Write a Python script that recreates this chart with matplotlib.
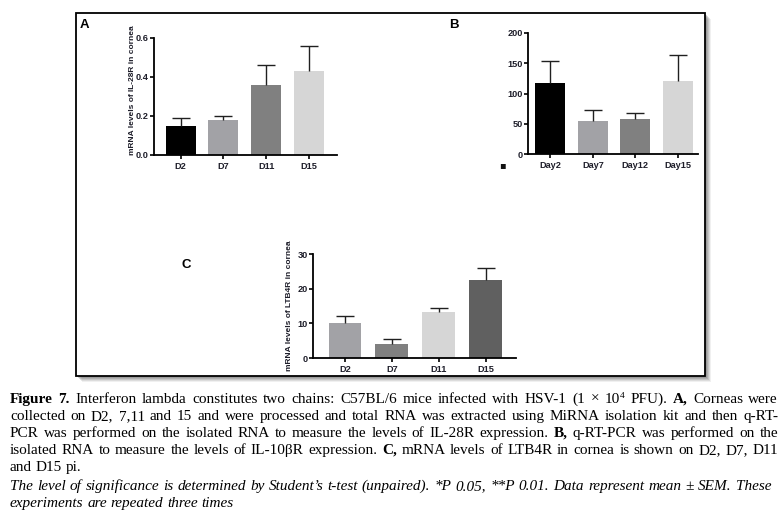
import numpy as np
import matplotlib
matplotlib.use("Agg")
import matplotlib.pyplot as plt
from matplotlib.patches import Rectangle

# ---- data ----
a_days = ["D2", "D7", "D11", "D15"]
a_mean = [0.148, 0.179, 0.36, 0.43]
a_upper = [0.188, 0.198, 0.46, 0.56]
a_colors = ["#000000", "#a2a2a6", "#808080", "#d6d6d6"]

b_days = ["Day2", "Day7", "Day12", "Day15"]
b_mean = [117, 55, 58, 121]
b_upper = [153, 72, 68, 164]
b_colors = ["#000000", "#a2a2a6", "#808080", "#d6d6d6"]

c_days = ["D2", "D7", "D11", "D15"]
c_mean = [10.1, 4.1, 13.2, 22.4]
c_upper = [12.2, 5.5, 14.3, 26.0]
c_colors = ["#a2a2a6", "#808080", "#d6d6d6", "#606060"]

caption_lines = [
    "Figure 7. Interferon lambda constitutes two chains: C57BL/6 mice infected with HSV-1 (1 × 10^4 PFU). A, Corneas were",
    "collected on D2, 7,11 and 15 and were processed and total RNA was extracted using MiRNA isolation kit and then q-RT-",
    "PCR was performed on the isolated RNA to measure the levels of IL-28R expression. B, q-RT-PCR was performed on the",
    "isolated RNA to measure the levels of IL-10βR expression. C, mRNA levels of LTB4R in cornea is shown on D2, D7, D11",
    "and D15 pi.",
    "The level of significance is determined by Student’s t-test (unpaired). *P 0.05, **P 0.01. Data represent mean ± SEM. These",
    "experiments are repeated three times",
]
cap_justify = [True, True, True, True, False, True, False]
cap_italic = [False, False, False, False, False, True, True]
bold_words = {"Figure", "7.", "A,", "B,", "C,"}

W, H = 783, 513
fig = plt.figure(figsize=(W / 100, H / 100), dpi=100)


def fx(x):
    return x / W


def fy(y):
    return 1 - y / H


# frame with soft shadow
for off, a in [(6, 0.10), (5, 0.15), (4, 0.2), (3, 0.25), (2, 0.3)]:
    fig.patches.append(Rectangle((fx(76 + off), fy(376 + off)), (705 - 76) / W, (376 - 13) / H,
                                 transform=fig.transFigure, facecolor="#707070", alpha=a,
                                 edgecolor="none", zorder=-3))
fig.patches.append(Rectangle((fx(76), fy(376)), (705 - 76) / W, (376 - 13) / H,
                             transform=fig.transFigure, facecolor="white",
                             edgecolor="black", lw=1.3, zorder=-2))

tick_col = "#1e1e2a"


def bar_panel(rect, days, mean, upper, colors, ylim, yticks, ylabels, xlim, ylabel=None):
    ax = fig.add_axes(rect)
    ax.patch.set_alpha(0)
    x = np.arange(len(days))
    ax.bar(x, mean, width=0.7, color=colors, edgecolor="none", zorder=2)
    err = np.array(upper) - np.array(mean)
    eb = ax.errorbar(x, mean, yerr=[np.zeros(len(x)), err], fmt="none", ecolor="#202020",
                     elinewidth=1.0, capsize=6.5, capthick=1.0, zorder=3)
    eb[1][0].set_visible(False)
    ax.set_xlim(*xlim)
    ax.set_ylim(*ylim)
    ax.set_yticks(yticks)
    ax.set_yticklabels(ylabels)
    ax.set_xticks(x)
    ax.set_xticklabels(days)
    for s in ["top", "right"]:
        ax.spines[s].set_visible(False)
    for s in ["left", "bottom"]:
        ax.spines[s].set_linewidth(1.3)
    ax.tick_params(length=2.8, width=1.2, labelsize=6.6, labelcolor=tick_col)
    ax.tick_params(axis="x", pad=2.5)
    ax.tick_params(axis="y", pad=1)
    for lab in ax.get_xticklabels() + ax.get_yticklabels():
        lab.set_fontweight("bold")
        lab.set_family("Liberation Sans")
    if ylabel:
        ax.set_ylabel(ylabel, fontsize=6.0, fontweight="bold", color=tick_col,
                      family="Liberation Sans", labelpad=2)
    return ax


ax_a = bar_panel([fx(154), fy(155), (337 - 154) / W, (155 - 38) / H], a_days, a_mean, a_upper,
                 a_colors, (0, 0.6), [0, 0.2, 0.4, 0.6], ["0.0", "0.2", "0.4", "0.6"],
                 (-0.62, 3.65), "mRNA levels of IL-28R in cornea")
ax_a.yaxis.set_label_coords(-0.10, 0.555)
ax_b = bar_panel([fx(528), fy(154), (698 - 528) / W, (154 - 33) / H], b_days, b_mean, b_upper,
                 b_colors, (0, 200), [0, 50, 100, 150, 200], ["0", "50", "100", "150", "200"],
                 (-0.52, 3.47))
ax_c = bar_panel([fx(313), fy(358), (516 - 313) / W, (358 - 254) / H], c_days, c_mean, c_upper,
                 c_colors, (0, 30), [0, 10, 20, 30], ["0", "10", "20", "30"],
                 (-0.68, 3.64), "mRNA levels of LTB4R in cornea")
ax_c.yaxis.set_label_coords(-0.10, 0.5)

# panel letters
fig.text(fx(80), fy(28), "A", fontsize=9.5, fontweight="bold", family="Liberation Sans")
fig.text(fx(449), fy(28), "B", fontsize=9.5, fontweight="bold", family="Liberation Sans")
fig.text(fx(182), fy(268), "C", fontsize=9.5, fontweight="bold", family="Liberation Sans")
fig.text(fx(502), fy(168), "▪", fontsize=7, ha="center", color="#111")

# ---- caption, justified word by word ----
renderer = fig.canvas.get_renderer()
cap_size = 11.0
space = 0.25 * cap_size * 100 / 72
left = 10
rights = [778, 778, 778, 778, 778, 771, 778]
baselines = [403, 420, 437, 454, 471, 490, 507]


def make_word(word, italic):
    weight = "bold" if word in bold_words else "normal"
    style = "italic" if italic else "normal"
    if "^" in word:
        pieces = [(word.split("^")[0], cap_size, 0), (word.split("^")[1], cap_size * 0.62, 5.5)]
    else:
        pieces = [(word, cap_size, 0)]
    arts = []
    total = 0
    for txt, s, dy in pieces:
        t = fig.text(0, 0, txt, fontsize=s, fontweight=weight, fontstyle=style,
                     family="Liberation Serif", va="baseline")
        w = t.get_window_extent(renderer).width
        arts.append((t, total, dy))
        total += w
    return arts, total


for i, line in enumerate(caption_lines):
    words = [make_word(w, cap_italic[i]) for w in line.split(" ")]
    widths = [w for _, w in words]
    gap = space
    if cap_justify[i] and len(words) > 1:
        gap = max(1.5, (rights[i] - left - sum(widths)) / (len(words) - 1))
    x = left
    for arts, w in words:
        for t, dx, dy in arts:
            t.set_position((fx(x + dx), fy(baselines[i] - dy)))
        x += w + gap

fig.savefig("out.png", dpi=100)
